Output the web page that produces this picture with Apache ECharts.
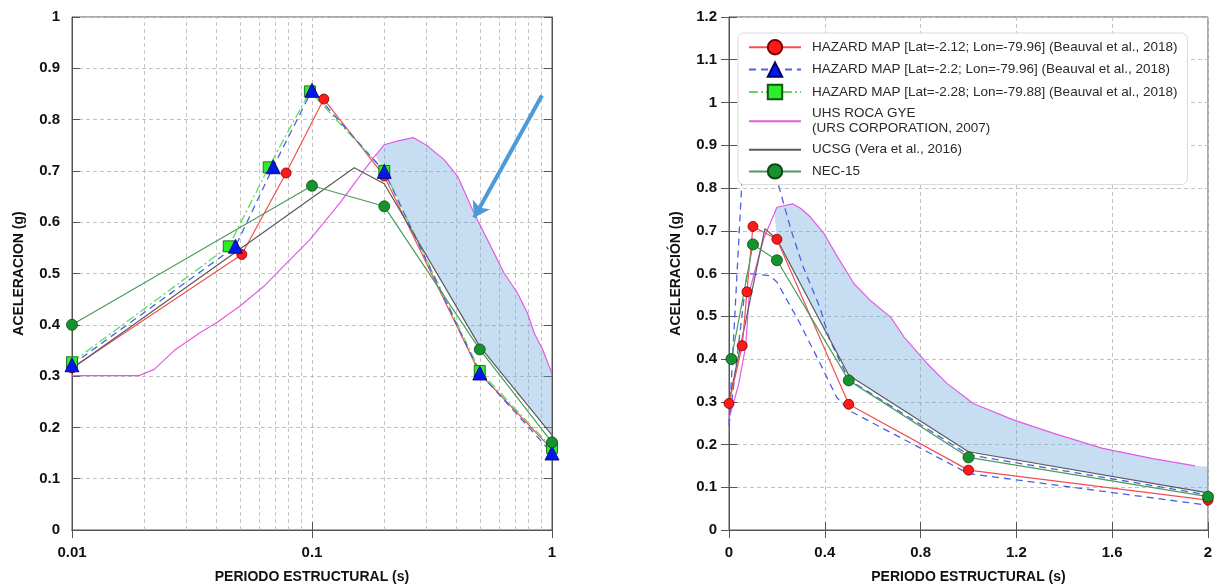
<!DOCTYPE html>
<html>
<head>
<meta charset="utf-8">
<script src="https://cdn.jsdelivr.net/npm/echarts@6/dist/echarts.min.js"></script>
<style>
  html, body { margin: 0; padding: 0; background: #fff; }
  #chart { width: 1222px; height: 587px; }
</style>
</head>
<body>
<div id="chart"></div>
<script>
  // ---- nombres de series / leyenda ----
  const nameRed = 'HAZARD MAP [Lat=-2.12; Lon=-79.96] (Beauval et al., 2018)';
  const nameBlue = 'HAZARD MAP [Lat=-2.2; Lon=-79.96] (Beauval et al., 2018)';
  const nameGreen = 'HAZARD MAP [Lat=-2.28; Lon=-79.88] (Beauval et al., 2018)';
  const nameUhs = 'UHS ROCA GYE\n(URS CORPORATION, 2007)';
  const nameUcsg = 'UCSG (Vera et al., 2016)';
  const nameNec = 'NEC-15';

  // ---- panel izquierdo (eje log) ----
  const leftRedT = [0.01, 0.051, 0.078, 0.112, 0.2, 0.5, 1];
  const leftRedA = [0.316, 0.537, 0.696, 0.840, 0.690, 0.305, 0.157];
  const leftBlueT = [0.01, 0.048, 0.069, 0.1, 0.2, 0.5, 1];
  const leftBlueA = [0.322, 0.553, 0.708, 0.857, 0.699, 0.306, 0.150];
  const leftGreenT = [0.01, 0.045, 0.066, 0.098, 0.2, 0.5, 1];
  const leftGreenA = [0.327, 0.553, 0.707, 0.855, 0.700, 0.310, 0.160];
  const leftUhsT = [0.01, 0.019, 0.022, 0.027, 0.034, 0.04, 0.05, 0.063, 0.076, 0.098, 0.131, 0.178, 0.2, 0.226, 0.264, 0.3, 0.355, 0.404, 0.473, 0.538, 0.631, 0.718, 0.79, 0.843, 0.914, 1];
  const leftUhsA = [0.301, 0.301, 0.313, 0.352, 0.384, 0.404, 0.436, 0.475, 0.514, 0.566, 0.638, 0.722, 0.751, 0.758, 0.765, 0.750, 0.722, 0.690, 0.618, 0.566, 0.501, 0.462, 0.423, 0.384, 0.352, 0.305];
  const leftUcsgT = [0.01, 0.15, 0.2, 0.5, 1];
  const leftUcsgA = [0.315, 0.706, 0.675, 0.358, 0.185];
  const leftNecT = [0.01, 0.1, 0.2, 0.5, 1];
  const leftNecA = [0.40, 0.671, 0.631, 0.352, 0.171];
  // banda sombreada
  const leftBandTopT = [0.184, 0.2, 0.226, 0.264, 0.3, 0.355, 0.404, 0.473, 0.538, 0.631, 0.718, 0.79, 0.843, 0.914, 1, 1];
  const leftBandTopA = [0.729, 0.751, 0.758, 0.765, 0.750, 0.722, 0.690, 0.618, 0.566, 0.501, 0.462, 0.423, 0.384, 0.352, 0.305, 0.185];
  const leftBandBotT = [0.184, 0.2, 0.27, 0.5, 1];
  const leftBandBotA = [0.729, 0.700, 0.572, 0.358, 0.185];
  const leftMinorGrid = [0.02, 0.03, 0.04, 0.05, 0.06, 0.07, 0.08, 0.09, 0.2, 0.3, 0.4, 0.5, 0.6, 0.7, 0.8, 0.9];
  const arrowFrom = [0.908, 0.847];
  const arrowTo = [0.474, 0.609];

  // ---- panel derecho (eje lineal) ----
  const rightRedT = [0, 0.055, 0.075, 0.1, 0.2, 0.5, 1, 2];
  const rightRedA = [0.296, 0.431, 0.557, 0.710, 0.680, 0.294, 0.140, 0.070];
  const rightBlueT = [0, 0.075, 0.17, 0.2, 0.29, 0.38, 0.45, 0.5, 1, 2, null, 0, 0.06, 0.1, 0.17, 0.26, 0.31, 0.38, 0.42, 0.5, 1, 2];
  const rightBlueA = [0.245, 0.600, 0.595, 0.580, 0.490, 0.390, 0.310, 0.280, 0.132, 0.058, null, 0.245, 0.880, 0.920, 0.880, 0.700, 0.615, 0.520, 0.445, 0.352, 0.176, 0.082];
  const rightUhsT = [0, 0.02, 0.04, 0.07, 0.085, 0.105, 0.147, 0.189, 0.2, 0.265, 0.3, 0.34, 0.397, 0.453, 0.522, 0.59, 0.675, 0.73, 0.828, 0.91, 1.02, 1.19, 1.356, 1.56, 1.77, 1.946];
  const rightUhsA = [0.26, 0.30, 0.34, 0.431, 0.557, 0.600, 0.685, 0.740, 0.755, 0.763, 0.752, 0.732, 0.693, 0.639, 0.576, 0.537, 0.498, 0.452, 0.389, 0.343, 0.296, 0.257, 0.226, 0.191, 0.167, 0.150];
  const rightUcsgT = [0, 0.15, 0.2, 0.5, 1, 2];
  const rightUcsgA = [0.30, 0.705, 0.680, 0.362, 0.183, 0.087];
  const rightNecT = [0.01, 0.1, 0.2, 0.5, 1, 2];
  const rightNecA = [0.40, 0.668, 0.631, 0.350, 0.170, 0.078];
  const rightBandTopT = [0.189, 0.2, 0.265, 0.3, 0.34, 0.397, 0.453, 0.522, 0.59, 0.675, 0.73, 0.828, 0.91, 1.02, 1.19, 1.356, 1.56, 1.77, 1.946, 2];
  const rightBandTopA = [0.745, 0.755, 0.763, 0.752, 0.732, 0.693, 0.639, 0.576, 0.537, 0.498, 0.452, 0.389, 0.343, 0.296, 0.257, 0.226, 0.191, 0.167, 0.150, 0.148];
  const rightBandBotT = [0.189, 0.2, 0.5, 1, 2];
  const rightBandBotA = [0.745, 0.680, 0.362, 0.183, 0.087];

  const FONT = '"Liberation Sans", Arial, sans-serif';
  const zip = (xs, ys) => xs.map((x, i) => (x === null ? '-' : [x, ys[i]]));

  const gridLine = { show: true, lineStyle: { color: '#c2c2c2', type: [4, 3], width: 1 } };
  const tickIn = { show: true, inside: true, length: 8, lineStyle: { color: '#555' } };
  const axLine = { show: true, lineStyle: { color: '#555', width: 1 } };
  const lblStyle = { fontFamily: FONT, fontWeight: 'bold', fontSize: 15, color: '#111' };
  const nameStyle = { fontFamily: FONT, fontWeight: 'bold', fontSize: 14, color: '#111' };

  const styleRed = {
    symbol: 'circle', symbolSize: 10,
    itemStyle: { color: '#ff1a1a', borderColor: '#7a0000', borderWidth: 0.8 },
    lineStyle: { color: '#f05050', width: 1.2 }
  };
  const styleBlue = {
    symbol: 'triangle', symbolSize: 14,
    itemStyle: { color: '#0018ee', borderColor: '#000066', borderWidth: 0.8 },
    lineStyle: { color: '#4a60e8', width: 1.3, type: [7, 5] }
  };
  const styleGreen = {
    symbol: 'rect', symbolSize: 11,
    itemStyle: { color: '#2aee2a', borderColor: '#115511', borderWidth: 0.8 },
    lineStyle: { color: '#5ddc5d', width: 1.3, type: [9, 3, 2, 3] }
  };
  const styleUhs = { symbol: 'none', itemStyle: { color: '#e35ae3' }, lineStyle: { color: '#e35ae3', width: 1.2 } };
  const styleUcsg = { symbol: 'none', itemStyle: { color: '#5a5a5a' }, lineStyle: { color: '#5a5a5a', width: 1.2 } };
  const styleNec = {
    symbol: 'circle', symbolSize: 11,
    itemStyle: { color: '#16922e', borderColor: '#0b4a16', borderWidth: 0.8 },
    lineStyle: { color: '#4a9c5c', width: 1.2 }
  };

  function bandSeries(xi, yi, topT, topA, botT, botA) {
    return {
      type: 'custom', xAxisIndex: xi, yAxisIndex: yi, z: 1, silent: true,
      data: [[topT[0], topA[0]]],
      renderItem: function (params, api) {
        const pts = zip(topT, topA).map(p => api.coord(p))
          .concat(zip(botT, botA).reverse().map(p => api.coord(p)));
        return { type: 'polygon', shape: { points: pts }, style: { fill: 'rgba(100,160,220,0.36)' } };
      }
    };
  }

  function lineSeries(name, xi, yi, data, style, extra) {
    return Object.assign({ type: 'line', name: name, xAxisIndex: xi, yAxisIndex: yi, data: data, z: 3 }, style, extra || {});
  }

  const option = {
    animation: false,
    backgroundColor: '#fff',
    grid: [
      { left: 72, top: 17, width: 480, height: 513, show: true, borderColor: '#555', borderWidth: 1, outerBoundsMode: 'none' },
      { left: 729, top: 17, width: 479, height: 513, show: true, borderColor: '#555', borderWidth: 1, outerBoundsMode: 'none' }
    ],
    xAxis: [
      {
        type: 'log', gridIndex: 0, min: 0.01, max: 1, logBase: 10,
        axisLine: axLine, axisTick: tickIn, splitLine: gridLine,
        axisLabel: Object.assign({ margin: 15 }, lblStyle),
        name: 'PERIODO ESTRUCTURAL (s)', nameLocation: 'middle', nameGap: 40, nameTextStyle: nameStyle
      },
      {
        type: 'log', gridIndex: 0, min: 0.01, max: 1, logBase: 10, position: 'top',
        axisLine: axLine, axisTick: tickIn, splitLine: { show: false }, axisLabel: { show: false }
      },
      {
        type: 'value', gridIndex: 1, min: 0, max: 2, interval: 0.4,
        axisLine: axLine, axisTick: tickIn, splitLine: gridLine,
        axisLabel: Object.assign({ margin: 15 }, lblStyle),
        name: 'PERIODO ESTRUCTURAL (s)', nameLocation: 'middle', nameGap: 40, nameTextStyle: nameStyle
      },
      {
        type: 'value', gridIndex: 1, min: 0, max: 2, interval: 0.4, position: 'top',
        axisLine: axLine, axisTick: tickIn, splitLine: { show: false }, axisLabel: { show: false }
      }
    ],
    yAxis: [
      {
        type: 'value', gridIndex: 0, min: 0, max: 1, interval: 0.1,
        axisLine: axLine, axisTick: tickIn, splitLine: gridLine,
        axisLabel: Object.assign({ margin: 12 }, lblStyle),
        name: 'ACELERACION (g)', nameLocation: 'middle', nameGap: 46, nameRotate: 90, nameTextStyle: nameStyle
      },
      {
        type: 'value', gridIndex: 0, min: 0, max: 1, interval: 0.1, position: 'right',
        axisLine: axLine, axisTick: tickIn, splitLine: { show: false }, axisLabel: { show: false }
      },
      {
        type: 'value', gridIndex: 1, min: 0, max: 1.2, interval: 0.1,
        axisLine: axLine, axisTick: tickIn, splitLine: gridLine,
        axisLabel: Object.assign({ margin: 12 }, lblStyle),
        name: 'ACELERACIÓN (g)', nameLocation: 'middle', nameGap: 46, nameRotate: 90, nameTextStyle: nameStyle
      },
      {
        type: 'value', gridIndex: 1, min: 0, max: 1.2, interval: 0.1, position: 'right',
        axisLine: axLine, axisTick: tickIn, splitLine: { show: false }, axisLabel: { show: false }
      }
    ],
    legend: {
      data: [
        nameRed, nameBlue, nameGreen,
        { name: nameUhs, itemStyle: { opacity: 0 } },
        { name: nameUcsg, itemStyle: { opacity: 0 } },
        nameNec
      ],
      orient: 'vertical', left: 738, top: 33,
      itemWidth: 52, itemHeight: 18, itemGap: 6,
      padding: [6, 10, 5, 10],
      backgroundColor: '#fff', borderColor: '#dadada', borderWidth: 1, borderRadius: 6,
      textStyle: { fontFamily: FONT, fontSize: 13.5, color: '#2a2a2a', lineHeight: 15, padding: [0, 0, 0, 6] },
      selectedMode: false
    },
    series: [
      // panel izquierdo
      bandSeries(0, 0, leftBandTopT, leftBandTopA, leftBandBotT, leftBandBotA),
      {
        type: 'line', xAxisIndex: 0, yAxisIndex: 0, data: [], z: 1, silent: true,
        markLine: {
          silent: true, symbol: 'none', label: { show: false }, z: 1,
          lineStyle: { color: '#c6c6c6', type: [4, 3], width: 1 },
          data: leftMinorGrid.map(v => ({ xAxis: v }))
        }
      },
      lineSeries(nameRed, 0, 0, zip(leftRedT, leftRedA), styleRed),
      lineSeries(nameGreen, 0, 0, zip(leftGreenT, leftGreenA), styleGreen),
      lineSeries(nameBlue, 0, 0, zip(leftBlueT, leftBlueA), styleBlue),
      lineSeries(nameUhs, 0, 0, zip(leftUhsT, leftUhsA), styleUhs, {
        markLine: {
          silent: true, symbol: ['none', 'arrow'], symbolSize: 15, label: { show: false },
          lineStyle: { color: '#4d9ad8', width: 4, type: 'solid' },
          data: [[{ coord: arrowFrom }, { coord: arrowTo }]]
        }
      }),
      lineSeries(nameUcsg, 0, 0, zip(leftUcsgT, leftUcsgA), styleUcsg),
      lineSeries(nameNec, 0, 0, zip(leftNecT, leftNecA), styleNec),
      // panel derecho
      bandSeries(2, 2, rightBandTopT, rightBandTopA, rightBandBotT, rightBandBotA),
      lineSeries(nameBlue, 2, 2, zip(rightBlueT, rightBlueA), styleBlue, { symbol: 'none', connectNulls: false }),
      lineSeries(nameUhs, 2, 2, zip(rightUhsT, rightUhsA), styleUhs),
      lineSeries(nameUcsg, 2, 2, zip(rightUcsgT, rightUcsgA), styleUcsg),
      lineSeries(nameRed, 2, 2, zip(rightRedT, rightRedA), styleRed),
      lineSeries(nameNec, 2, 2, zip(rightNecT, rightNecA), styleNec)
    ]
  };

  const chart = echarts.init(document.getElementById('chart'), null, { renderer: 'canvas' });
  chart.setOption(option);
</script>
</body>
</html>
